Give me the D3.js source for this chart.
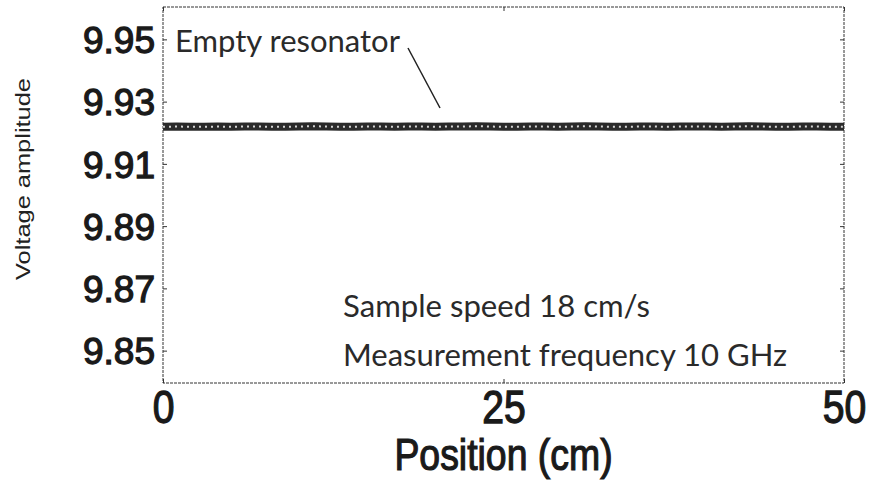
<!DOCTYPE html>
<html><head><meta charset="utf-8">
<script src="https://cdn.jsdelivr.net/npm/d3@7"></script>
<style>body{margin:0;background:#fff}svg{display:block}</style>
</head><body><svg id="c" width="869" height="480"></svg>
<script>
// Data
const positions = [0,1,2,3,4,5,6,7,8,9,10,11,12,13,14,15,16,17,18,19,20,21,22,23,24,25,26,27,28,29,30,31,32,33,34,35,36,37,38,39,40,41,42,43,44,45,46,47,48,49,50];
const voltage = [9.9219,9.9220,9.9219,9.9219,9.9220,9.9219,9.9220,9.9220,9.9219,9.9219,9.9220,9.9221,9.9220,9.9219,9.9219,9.9220,9.9220,9.9219,9.9220,9.9220,9.9219,9.9220,9.9220,9.9221,9.9220,9.9219,9.9219,9.9220,9.9220,9.9219,9.9220,9.9221,9.9220,9.9219,9.9219,9.9220,9.9220,9.9219,9.9220,9.9220,9.9220,9.9219,9.9220,9.9221,9.9220,9.9219,9.9219,9.9220,9.9220,9.9219,9.9219];
const yTicks = [9.85,9.87,9.89,9.91,9.93,9.95];
const xTicks = [0,25,50];
const xTitle = "Position (cm)";
const yTitle = "Voltage amplitude";
const annotations = ["Empty resonator","Sample speed 18 cm/s","Measurement frequency 10 GHz"];

const svg = d3.select("#c");
const L=163, R=844, T=7, B=383;
const x = d3.scaleLinear().domain([0,50]).range([L,R]);
const y = d3.scaleLinear().domain([9.8396,9.9604]).range([B,T]);
const ink="#1a1a1a";

// frame
svg.append("rect").attr("x",L).attr("y",T).attr("width",R-L).attr("height",B-T)
  .attr("fill","none").attr("stroke","#333").attr("stroke-width",1).attr("stroke-dasharray","3,1");

const fontTick = "'Liberation Sans', Arial, sans-serif";
const yAx = svg.append("g").attr("transform",`translate(${L},0)`)
  .call(d3.axisLeft(y).tickValues(yTicks).tickFormat(d3.format(".2f")).tickSizeInner(-4).tickSizeOuter(0).tickPadding(8));
const yAxR = svg.append("g").attr("transform",`translate(${R},0)`)
  .call(d3.axisRight(y).tickValues(yTicks).tickSizeInner(-4).tickSizeOuter(0).tickFormat(""));
const xAx = svg.append("g").attr("transform",`translate(0,${B})`)
  .call(d3.axisBottom(x).tickValues(xTicks).tickSizeInner(-4).tickSizeOuter(0).tickFormat(""));
const xAxT = svg.append("g").attr("transform",`translate(0,${T})`)
  .call(d3.axisTop(x).tickValues(xTicks).tickSizeInner(-4).tickSizeOuter(0).tickFormat(""));
[yAx,yAxR,xAx,xAxT].forEach(g=>{
  g.select(".domain").remove();
  g.selectAll(".tick line").attr("stroke","#333").attr("stroke-width",1);
});
yAx.selectAll("text").attr("font-family",fontTick).attr("font-size",37).attr("font-weight","normal")
  .attr("fill",ink).attr("stroke",ink).attr("stroke-width",1.3).attr("dy","0.36em");

// x tick labels: tall, narrow glyphs
xAx.selectAll(".tick").append("text")
  .attr("transform","translate(0,40) scale(0.85,1)")
  .attr("text-anchor","middle").attr("font-family",fontTick).attr("font-size",46)
  .attr("fill",ink).attr("stroke",ink).attr("stroke-width",1.3)
  .text(d=>d);

// titles
svg.append("text").attr("transform",`translate(${(L+R)/2},470) scale(0.85,1)`).attr("text-anchor","middle")
  .attr("font-family",fontTick).attr("font-size",44).attr("fill",ink).attr("stroke",ink).attr("stroke-width",1.2).text(xTitle);
svg.append("text").attr("transform",`translate(30,${179}) rotate(-90)`).attr("text-anchor","middle")
  .attr("font-family",fontTick).attr("font-size",21).attr("fill","#222")
  .attr("textLength",202).attr("lengthAdjust","spacingAndGlyphs").text(yTitle);

// data line
const line = d3.line().x((d,i)=>x(positions[i])).y(d=>y(d));
svg.append("path").datum(voltage).attr("d",line).attr("fill","none").attr("stroke","#2a2a2a").attr("stroke-width",8);
svg.append("path").datum(voltage).attr("d",line).attr("fill","none").attr("stroke","#fff").attr("stroke-width",2).attr("stroke-dasharray","2,4").attr("opacity",0.8);

// annotations
const fontAnn = "Lato, 'Open Sans', sans-serif";
const annCol = "#2a2a2a";
svg.append("text").attr("x",175).attr("y",52).attr("font-family",fontAnn).attr("font-size",30).attr("fill",annCol)
  .attr("textLength",225).attr("lengthAdjust","spacingAndGlyphs").text(annotations[0]);
svg.append("line").attr("x1",408).attr("y1",48).attr("x2",440).attr("y2",108).attr("stroke","#222").attr("stroke-width",1.5);
svg.append("text").attr("x",343).attr("y",317).attr("font-family",fontAnn).attr("font-size",30).attr("fill",annCol)
  .attr("textLength",307).attr("lengthAdjust","spacingAndGlyphs").text(annotations[1]);
svg.append("text").attr("x",343).attr("y",366).attr("font-family",fontAnn).attr("font-size",30).attr("fill",annCol)
  .attr("textLength",444).attr("lengthAdjust","spacingAndGlyphs").text(annotations[2]);
</script></body></html>
